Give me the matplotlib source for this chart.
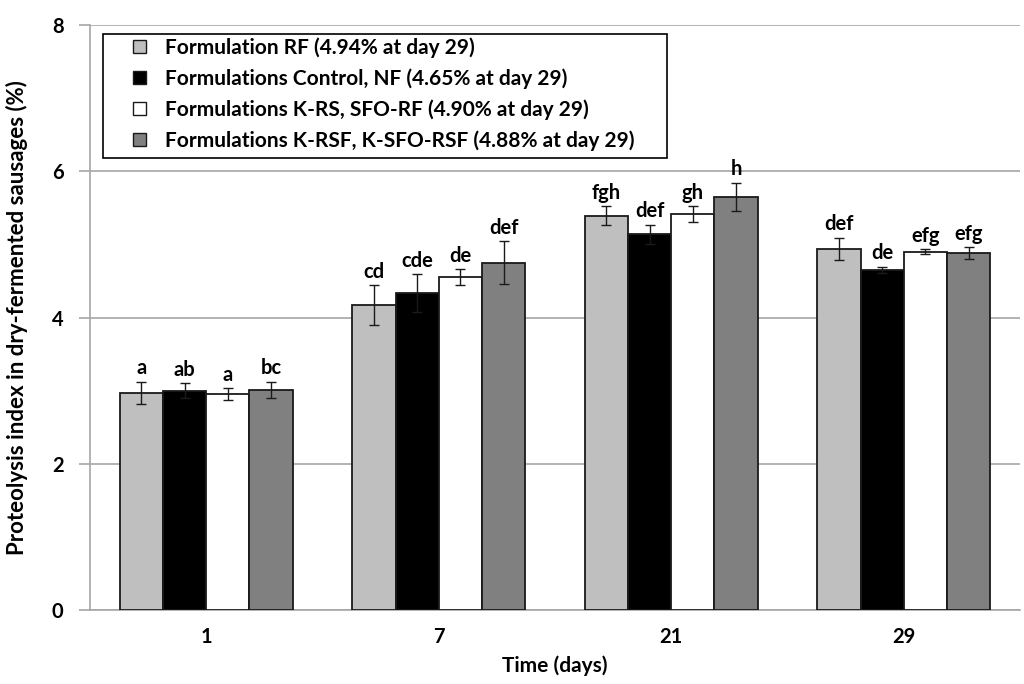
import numpy as np
import matplotlib
matplotlib.use("Agg")
import matplotlib.pyplot as plt
from matplotlib.patches import Patch, Rectangle
from matplotlib.legend_handler import HandlerPatch

plt.rcParams['font.family'] = ['Lato', 'DejaVu Sans']

days = ["1", "7", "21", "29"]
series_names = [
    "Formulation RF (4.94% at day 29)",
    "Formulations Control, NF (4.65% at day 29)",
    "Formulations K-RS, SFO-RF (4.90% at day 29)",
    "Formulations K-RSF, K-SFO-RSF (4.88% at day 29)",
]
rf_vals = [2.97, 4.17, 5.39, 4.94]
control_vals = [3.00, 4.33, 5.14, 4.65]
krs_vals = [2.95, 4.55, 5.41, 4.90]
krsf_vals = [3.01, 4.75, 5.65, 4.88]

rf_err = [0.15, 0.27, 0.13, 0.15]
control_err = [0.10, 0.26, 0.13, 0.04]
krs_err = [0.08, 0.11, 0.11, 0.03]
krsf_err = [0.11, 0.29, 0.19, 0.08]

rf_letters = ["a", "cd", "fgh", "def"]
control_letters = ["ab", "cde", "def", "de"]
krs_letters = ["a", "de", "gh", "efg"]
krsf_letters = ["bc", "def", "h", "efg"]

colors = ["#bfbfbf", "#000000", "#ffffff", "#808080"]
values = [rf_vals, control_vals, krs_vals, krsf_vals]
errors = [rf_err, control_err, krs_err, krsf_err]
letters = [rf_letters, control_letters, krs_letters, krsf_letters]

W, H = 1024, 684
fig = plt.figure(figsize=(W / 100, H / 100), dpi=100)
ax = fig.add_axes([90 / W, 1 - 610 / H, 930 / W, 585 / H])

x = np.arange(len(days))
width = 0.186
grid_color = "#a6a6a6"

for i in range(4):
    pos = x + (i - 1.5) * width
    ax.bar(pos, values[i], width, color=colors[i], edgecolor="#1a1a1a",
           linewidth=1.3, zorder=3, label=series_names[i])
    ax.errorbar(pos, values[i], yerr=errors[i], fmt="none", ecolor="#1a1a1a",
                elinewidth=1.0, capsize=3.5, capthick=1.0, zorder=4)
    for p, v, e, t in zip(pos, values[i], errors[i], letters[i]):
        ax.text(p, v + e + 0.05, t, ha="center", va="bottom",
                fontsize=14.5, fontweight="bold", zorder=5)

ax.set_xlim(-0.5, 3.5)
ax.set_ylim(0, 8)
ax.set_yticks([0, 2, 4, 6, 8])
ax.set_xticks(x)
ax.set_xticklabels(days)
ax.yaxis.grid(True, color=grid_color, linewidth=1.2, zorder=0)
ax.set_axisbelow(True)
for s in ["top", "right"]:
    ax.spines[s].set_visible(False)
for s in ["left", "bottom"]:
    ax.spines[s].set_color(grid_color)
    ax.spines[s].set_linewidth(1.2)
ax.tick_params(axis="y", length=8, color=grid_color, width=1.2, pad=11,
               labelsize=14.5)
ax.tick_params(axis="x", length=0, pad=12, labelsize=14.5)
for lab in ax.get_xticklabels() + ax.get_yticklabels():
    lab.set_fontweight("bold")

ax.set_xlabel("Time (days)", fontsize=15, fontweight="bold", labelpad=6)
ax.set_ylabel("Proteolysis index in dry-fermented sausages (%)", fontsize=16,
              fontweight="bold", labelpad=17)


# legend: small square swatches at the right end of a wide handle slot
def square_swatch(legend, orig_handle, xdescent, ydescent, width, height,
                  fontsize):
    s = 9.4
    return Rectangle((-xdescent + width - s, -ydescent + (height - s) / 2),
                     s, s)


handles = [Patch(facecolor=c, edgecolor="#1a1a1a", linewidth=1.0) for c in colors]
leg_fs = 15
leg = fig.legend(handles, series_names, loc="upper left",
                 bbox_to_anchor=(103 / W, 1 - 37 / H), frameon=False,
                 prop={"weight": "bold", "size": leg_fs},
                 handlelength=31 / leg_fs, handleheight=0.7,
                 handletextpad=13.7 / leg_fs, labelspacing=0.5,
                 borderpad=0, borderaxespad=0,
                 handler_map={Patch: HandlerPatch(patch_func=square_swatch)})
leg.set_zorder(7)

frame = Rectangle((103 / W, 1 - 158 / H), 564 / W, 124 / H,
                  transform=fig.transFigure, facecolor="white",
                  edgecolor="black", linewidth=1.2, zorder=6)
fig.patches.append(frame)

fig.savefig("out.png", dpi=100)
